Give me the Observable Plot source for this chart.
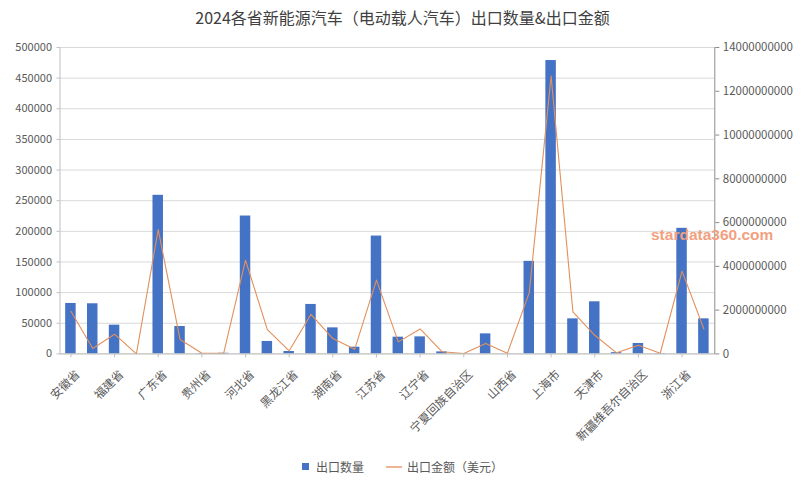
<!DOCTYPE html>
<html>
<head>
<meta charset="utf-8">
<script src="https://cdn.jsdelivr.net/npm/d3@7"></script>
<script src="https://cdn.jsdelivr.net/npm/@observablehq/plot@0.6"></script>
<style>
  body { margin: 0; background: #fff; font-family: "Noto Sans CJK SC", "Liberation Sans", sans-serif; }
  #wrap { position: relative; width: 805px; height: 480px; }
  #title { height: 34px; line-height: 34px; text-align: center; font-size: 16px; color: #404040; }
  #legend { position: absolute; top: 458px; left: 0; width: 805px; display: flex; justify-content: center; align-items: center; font-size: 12px; color: #595959; }
  #legend .sq { width: 7px; height: 7px; background: #4472C4; margin-right: 7px; }
  #legend .ln { width: 16px; height: 2px; background: #EDB592; margin-right: 5px; margin-left: 22px; }
  #wm { position: absolute; left: 651px; top: 227px; line-height: 15px; font-size: 15.5px; font-weight: bold; color: #F2A080; font-family: "Liberation Sans", Arial, sans-serif; }
</style>
</head>
<body>
<div id="wrap">
  <div id="title">2024各省新能源汽车（电动载人汽车）出口数量&amp;出口金额</div>
  <div id="chart"></div>
  <div id="legend"><span class="sq"></span><span>出口数量</span><span class="ln"></span><span>出口金额（美元）</span></div>
  <div id="wm">stardata360.com</div>
</div>
<script>
const provinces = ["安徽省","北京市","福建省","甘肃省","广东省","广西壮族自治区","贵州省","海南省","河北省","河南省",
  "黑龙江省","湖北省","湖南省","吉林省","江苏省","江西省","辽宁省","内蒙古自治区","宁夏回族自治区","山东省",
  "山西省","陕西省","上海市","四川省","天津市","西藏自治区","新疆维吾尔自治区","云南省","浙江省","重庆市"];
const exportQty = [82300, 81800, 46900, 0, 258800, 44700, 500, 1000, 225000, 20300,
  3900, 80700, 42500, 10900, 192300, 27300, 27800, 3300, 300, 32700,
  200, 151000, 478700, 57200, 85000, 2000, 17000, 500, 204900, 57200];
const exportValue = [1.95e9, 0.25e9, 0.90e9, 0.0, 5.68e9, 0.66e9, 0.03e9, 0.03e9, 4.28e9, 1.11e9,
  0.14e9, 1.81e9, 0.70e9, 0.21e9, 3.37e9, 0.55e9, 1.14e9, 0.10e9, 0.02e9, 0.48e9,
  0.03e9, 2.80e9, 12.69e9, 1.92e9, 0.85e9, 0.05e9, 0.40e9, 0.03e9, 3.78e9, 1.14e9];
const leftTicks = [0, 50000, 100000, 150000, 200000, 250000, 300000, 350000, 400000, 450000, 500000];
const rightTicks = [0, 2e9, 4e9, 6e9, 8e9, 10e9, 12e9, 14e9];

const leftMax = 500000, rightMax = 14e9;
const k = leftMax / rightMax;
const data = provinces.map((p, i) => ({p, q: exportQty[i], v: exportValue[i]}));
const shownLabels = provinces.filter((d, i) => i % 2 === 0);

const chart = Plot.plot({
  width: 805,
  height: 420,
  marginLeft: 59.5,
  marginRight: 90.7,
  marginTop: 13,
  marginBottom: 100.6,
  style: {fontFamily: "'Noto Sans CJK SC', 'Liberation Sans', sans-serif", fontSize: "11px", color: "#595959", background: "transparent"},
  x: {domain: provinces, paddingInner: 0.52, paddingOuter: 0.26, round: false, label: null},
  y: {domain: [0, leftMax], label: null},
  marks: [
    Plot.gridY(leftTicks, {stroke: "#d9d9d9", strokeOpacity: 1}),
    Plot.barY(data, {x: "p", y: "q", fill: "#4472C4"}),
    Plot.line(data, {x: "p", y: d => d.v * k, stroke: "#E2905C", strokeWidth: 1.1}),
    Plot.ruleY([0], {stroke: "#bfbfbf"}),
    Plot.frame({anchor: "left", stroke: "#bfbfbf"}),
    Plot.frame({anchor: "right", stroke: "#8c8c8c"}),
    Plot.axisY(leftTicks, {anchor: "left", tickSize: 3, tickPadding: 5, stroke: "#bfbfbf", fill: "#595959", tickFormat: d => String(d), label: null}),
    Plot.axisY(rightTicks.map(v => v * k), {anchor: "right", tickSize: 4, tickPadding: 4, stroke: "#8c8c8c", fill: "#595959", fontSize: 11.5, tickFormat: d => String(Math.round(d / k)), label: null}),
    Plot.axisX(shownLabels, {anchor: "bottom", tickSize: 4, stroke: "#bfbfbf", label: null, text: null}),
    Plot.text(shownLabels, {x: d => d, text: d => d, frameAnchor: "bottom", rotate: -45, textAnchor: "end", lineAnchor: "middle", dx: 7, dy: 18.5, fill: "#595959", fontSize: 11.8})
  ]
});
document.getElementById("chart").appendChild(chart);
</script>
</body>
</html>
